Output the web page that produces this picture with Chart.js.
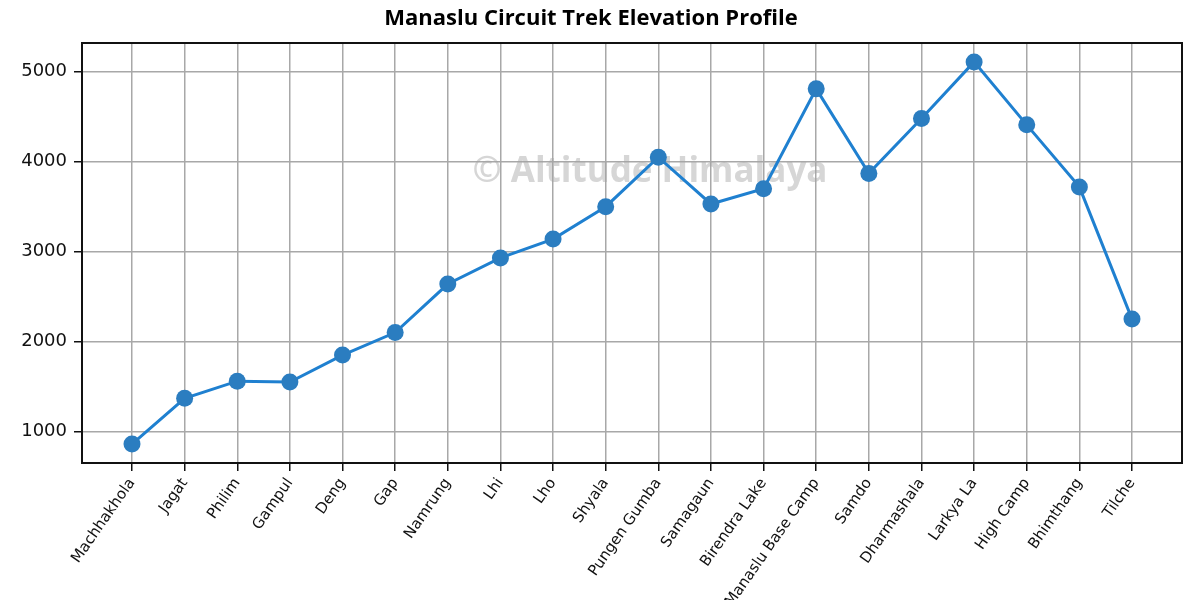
<!DOCTYPE html>
<html>
<head>
<meta charset="utf-8">
<script src="https://cdn.jsdelivr.net/npm/chart.js@4.4.1/dist/chart.umd.min.js"></script>
<style>
  html, body { margin: 0; padding: 0; background: #fff; }
  #wrap { width: 1200px; height: 600px; }
</style>
</head>
<body>
<div id="wrap"><canvas id="elev" width="1200" height="600"></canvas></div>
<script>
// stops along the trek and their elevation (m)
const stops = ['Machhakhola', 'Jagat', 'Philim', 'Gampul', 'Deng', 'Gap', 'Namrung', 'Lhi', 'Lho',
  'Shyala', 'Pungen Gumba', 'Samagaun', 'Birendra Lake', 'Manaslu Base Camp', 'Samdo',
  'Dharmashala', 'Larkya La', 'High Camp', 'Bhimthang', 'Tilche'];
const elevations = [860, 1370, 1560, 1550, 1850, 2100, 2640, 2930, 3140, 3500,
  4050, 3530, 3700, 4810, 3870, 4480, 5110, 4410, 3720, 2250];
const yTicks = [1000, 2000, 3000, 4000, 5000];

const watermark = {
  id: 'watermark',
  beforeDatasetsDraw(chart) {
    const { ctx } = chart;
    ctx.save();
    ctx.font = 'bold 35px "Open Sans", sans-serif';
    ctx.fillStyle = 'rgba(165,165,165,0.45)';
    ctx.textAlign = 'center';
    ctx.textBaseline = 'middle';
    ctx.fillText('© Altitude Himalaya', 650, 172);
    ctx.restore();
  }
};

// matplotlib style box round the plot
const frame = {
  id: 'frame',
  afterDraw(chart) {
    const { ctx, chartArea: a } = chart;
    ctx.save();
    ctx.strokeStyle = '#111';
    ctx.lineWidth = 2;
    ctx.strokeRect(a.left, a.top, a.right - a.left, a.bottom - a.top);
    ctx.restore();
  }
};

new Chart(document.getElementById('elev'), {
  type: 'line',
  data: {
    datasets: [{
      data: elevations.map((v, i) => ({ x: i, y: v })),
      borderColor: '#1f80d0',
      borderWidth: 3,
      pointRadius: 8.5,
      pointBackgroundColor: '#2b7dc0',
      pointBorderColor: '#2b7dc0',
      pointBorderWidth: 0,
      tension: 0
    }]
  },
  options: {
    responsive: false,
    animation: false,
    layout: { padding: { left: 0, right: 18, top: 0, bottom: 0 } },
    plugins: {
      legend: { display: false },
      tooltip: { enabled: false },
      title: {
        display: true,
        text: 'Manaslu Circuit Trek Elevation Profile',
        color: '#000',
        font: { family: '"Open Sans", sans-serif', size: 22, weight: 'bold', lineHeight: 1.2 },
        padding: { top: 6, bottom: 10.6 }
      }
    },
    scales: {
      x: {
        type: 'linear',
        min: -0.95,
        max: stops.length - 1 + 0.95,
        afterBuildTicks: s => { s.ticks = stops.map((_, i) => ({ value: i })); },
        afterFit: s => { s.height = 137; },
        grid: { color: '#a8a8a8', lineWidth: 1.5, tickLength: 8, tickColor: '#111', tickWidth: 1.5 },
        border: { color: '#111', width: 2 },
        ticks: {
          autoSkip: false,
          maxRotation: 55,
          minRotation: 55,
          padding: 4,
          color: '#111',
          font: { family: '"DejaVu Sans", sans-serif', size: 15 },
          callback: v => stops[v]
        }
      },
      y: {
        min: 650,
        max: 5320,
        afterBuildTicks: s => { s.ticks = yTicks.map(v => ({ value: v })); },
        afterFit: s => { s.width = 82; },
        grid: { color: '#a8a8a8', lineWidth: 1.5, tickLength: 8, tickColor: '#111', tickWidth: 1.5 },
        border: { color: '#111', width: 2 },
        ticks: {
          padding: 7,
          color: '#111',
          font: { family: '"DejaVu Sans", sans-serif', size: 18 },
          callback: v => String(v)
        }
      }
    }
  },
  plugins: [watermark, frame]
});
</script>
</body>
</html>
